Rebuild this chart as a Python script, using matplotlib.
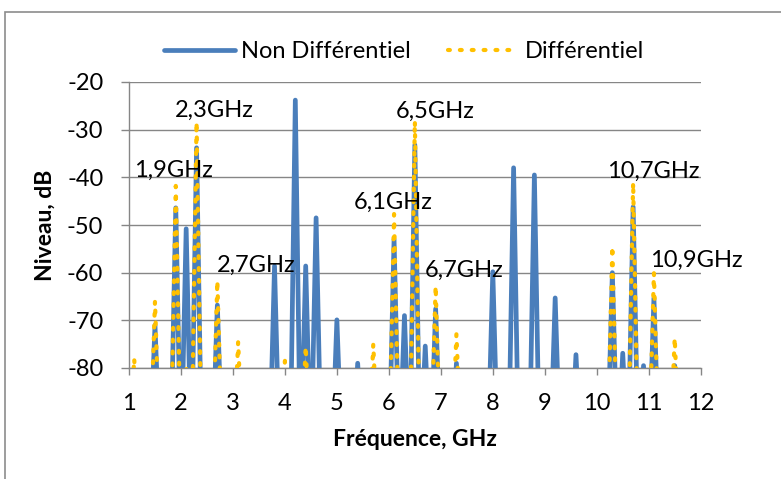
import matplotlib
matplotlib.use("Agg")
import matplotlib.pyplot as plt
from matplotlib.patches import Rectangle

# ---------------- data ----------------
freq_nd = [1.5, 1.9, 2.1, 2.3, 2.7, 3.8, 4.2, 4.4, 4.6, 5.0, 5.4, 6.1, 6.3, 6.5, 6.7,
           6.9, 7.3, 8.0, 8.4, 8.8, 9.2, 9.6, 10.3, 10.5, 10.7, 10.9, 11.1, 11.5]
level_nd = [-71, -46.4, -50.8, -33.8, -66.8, -58.6, -23.8, -58.6, -48.5, -69.9, -79, -53, -69,
            -33.2, -75.4, -67.6, -79, -59.8, -38, -39.5, -65.3, -77.2, -60, -76.9, -46.2,
            -79.5, -65.3, -79.5]
freq_d = [1.1, 1.5, 1.9, 2.1, 2.3, 2.7, 3.1, 4.0, 4.4, 5.7, 6.1, 6.5, 6.9, 7.3,
          10.3, 10.7, 11.1, 11.5]
level_d = [-78, -66, -41.8, -79.5, -28.4, -61.7, -74.5, -78.5, -75.5, -75, -47.7, -28.2,
           -62.8, -72.9, -54.5, -41.1, -60, -73.7]
floor_level = -100
labels = ["1,9GHz", "2,3GHz", "2,7GHz", "6,1GHz", "6,5GHz", "6,7GHz", "10,7GHz", "10,9GHz"]
label_pos = [(1.846, -38.5), (2.635, -25.9), (3.44, -58.4), (6.077, -45.2), (6.885, -26.1),
             (7.44, -59.6), (11.08, -38.7), (11.92, -57.5)]
xticks = list(range(1, 13))
yticks = list(range(-80, -19, 10))

HALF = 0.1


def spikes(freqs, levels):
    xs, ys = [], []
    for f, v in zip(freqs, levels):
        xs += [f - HALF, f, f + HALF]
        ys += [floor_level, v, floor_level]
    return xs, ys


FONT = ["Lato", "DejaVu Sans"]
plt.rcParams["font.family"] = FONT
plt.rcParams["axes.unicode_minus"] = False

W, H = 781, 479
fig = plt.figure(figsize=(W / 100, H / 100), dpi=100)
fig.patch.set_facecolor("white")
fig.patches.append(Rectangle((5 / W, -0.1), 2, 1 - 12 / H + 0.1, transform=fig.transFigure,
                             fill=False, edgecolor="#8c8c8c", lw=1.2))

ax = fig.add_axes([129 / W, 1 - 368 / H, (700.7 - 129) / W, (368 - 82) / H])

grey = "#868686"
x1, y1 = spikes(freq_nd, level_nd)
x2, y2 = spikes(freq_d, level_d)
l1, = ax.plot(x1, y1, color="#4a7ebb", lw=3.4, solid_joinstyle="round",
              solid_capstyle="round", label="Non Différentiel", zorder=3)
l2, = ax.plot(x2, y2, color="#ffc000", lw=3.0, linestyle=(0, (0.45, 2.4)),
              dash_capstyle="round", label="Différentiel", zorder=4)

ax.set_xlim(1, 12)
ax.set_ylim(-80, -20)
ax.set_xticks(xticks)
ax.set_yticks(yticks)
ax.yaxis.grid(True, color=grey, lw=1.0)
ax.set_axisbelow(True)
for s in ["top", "right"]:
    ax.spines[s].set_visible(False)
for s in ["left", "bottom"]:
    ax.spines[s].set_color(grey)
    ax.spines[s].set_linewidth(1.0)
    ax.spines[s].set_zorder(1)
ax.tick_params(axis="y", direction="out", length=6, width=1, color=grey, pad=12.5,
               labelsize=17, labelcolor="black")
ax.tick_params(axis="x", direction="out", length=5, width=1, color=grey, pad=13,
               labelsize=17, labelcolor="black")

for t, (lx, ly) in zip(labels, label_pos):
    ax.text(lx, ly, t, ha="center", va="center", fontsize=17, clip_on=False, zorder=6)

fig.text(415 / W, 1 - 440 / H, "Fréquence, GHz", ha="center", va="center",
         fontsize=16.5, fontweight="bold")
fig.text(45 / W, 1 - 225 / H, "Niveau, dB", ha="center", va="center", rotation=90,
         fontsize=16.5, fontweight="bold")

fig.legend(handles=[l1, l2], loc="center", bbox_to_anchor=(404 / W, 1 - 52 / H), ncol=2,
           frameon=False, fontsize=17, handlelength=3.0, handletextpad=0.25,
           columnspacing=1.6, borderpad=0)

fig.savefig("out.png", dpi=100)
